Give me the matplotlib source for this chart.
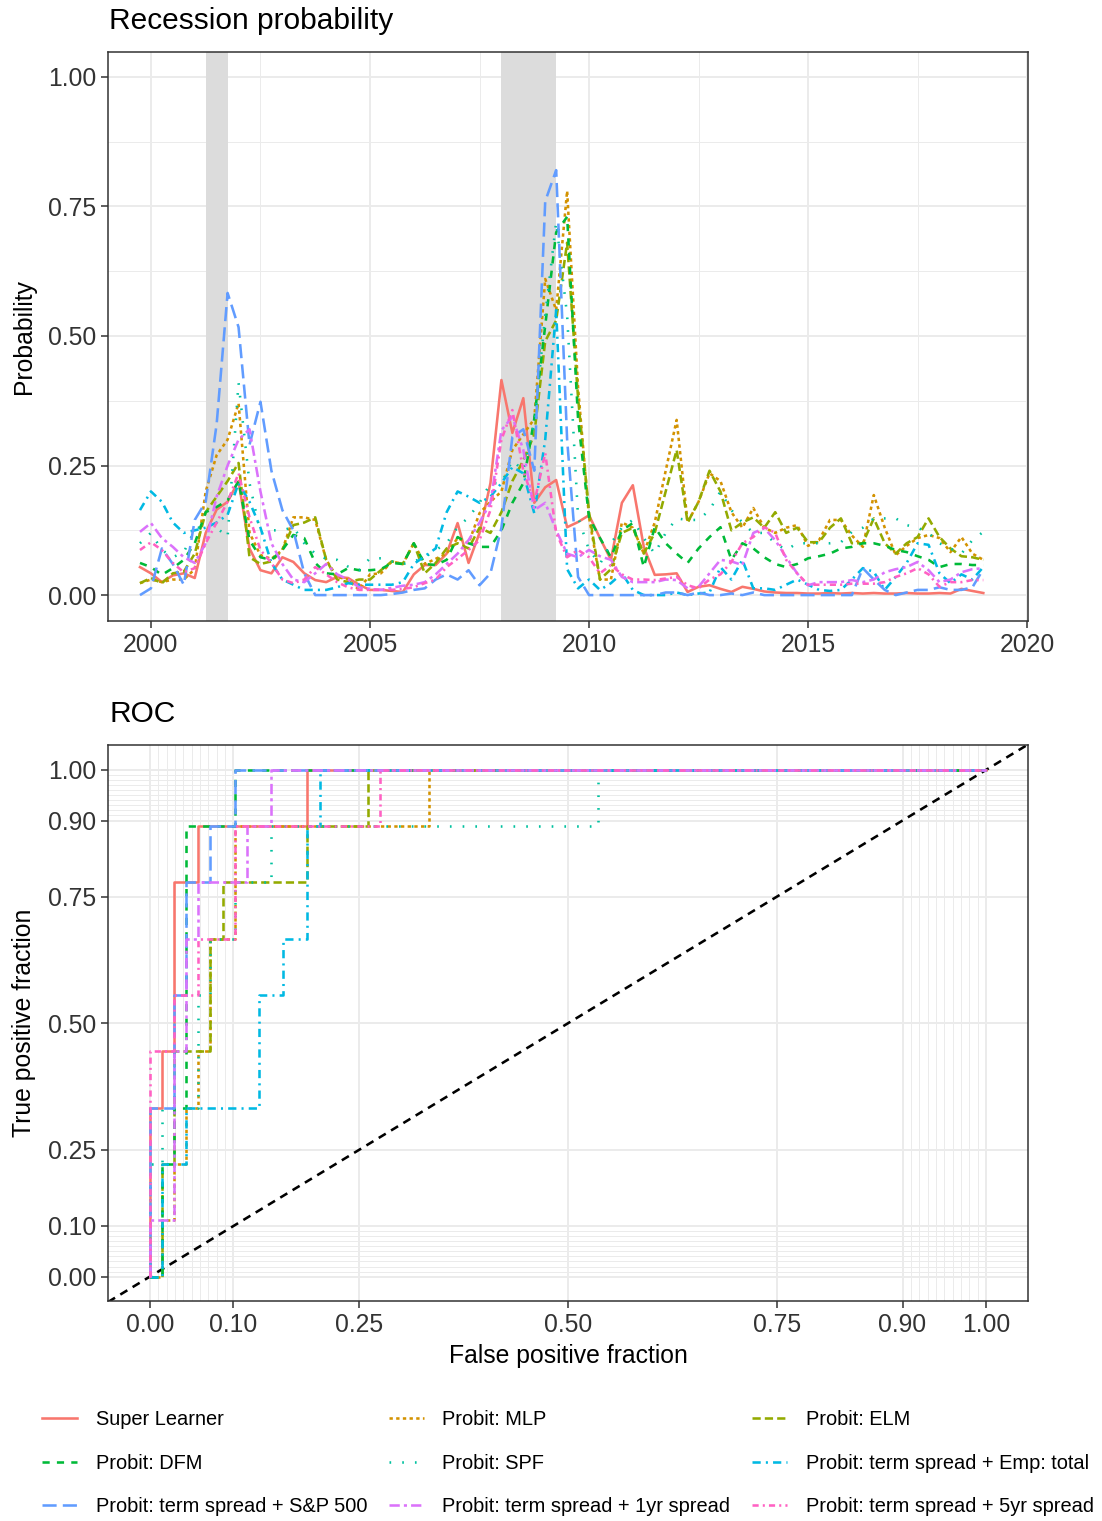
import matplotlib
matplotlib.use("Agg")
import matplotlib.pyplot as plt
import numpy as np
import pandas as pd
from matplotlib.lines import Line2D

plt.rcParams['font.family'] = ['Liberation Sans', 'DejaVu Sans']

# ---------------- data ----------------
MODELS = ["Super Learner", "Probit: MLP", "Probit: ELM", "Probit: DFM", "Probit: SPF",
          "Probit: term spread + Emp: total", "Probit: term spread + S&P 500",
          "Probit: term spread + 1yr spread", "Probit: term spread + 5yr spread"]

QUARTERS = pd.period_range("1999Q4", "2019Q1", freq="Q")

SL = [.054,
      .042, .025, .038, .042, .033, .12, .165, .18, .22, .09, .048, .042,
      .073, .064, .042, .029, .025, .035, .033, .02, .01, .01, .008, .006,
      .04, .058, .058, .08, .139, .062, .12, .216, .415, .313, .38, .178,
      .208, .222, .131, .141, .154, .11, .068, .178, .212, .093, .039, .04,
      .042, .006, .016, .019, .012, .006, .016, .012, .007, .005, .004, .004,
      .003, .003, .004, .003, .004, .003, .004, .003, .003, .004, .003, .003,
      .004, .003, .012, .008,
      .004]
MLP = [.023,
       .03, .025, .03, .03, .05, .2, .27, .3, .37, .12, .077, .07,
       .087, .15, .15, .145, .068, .035, .03, .01, .04, .042, .065, .06,
       .1, .06, .07, .08, .11, .1, .158, .18, .2, .28, .31, .34,
       .61, .55, .78, .4, .15, .03, .03, .14, .13, .08, .14, .24,
       .338, .14, .18, .235, .22, .16, .13, .168, .13, .12, .13, .135,
       .095, .106, .145, .145, .115, .093, .193, .13, .077, .095, .11, .116,
       .11, .083, .112, .08,
       .068]
ELM = [.023,
       .033, .023, .042, .045, .08, .16, .19, .22, .255, .073, .06, .065,
       .087, .135, .14, .15, .068, .03, .025, .03, .03, .048, .065, .06,
       .1, .042, .062, .09, .1, .09, .13, .12, .16, .22, .26, .31,
       .49, .53, .68, .38, .16, .03, .05, .12, .13, .08, .12, .2,
       .28, .14, .18, .24, .2, .125, .14, .15, .13, .16, .12, .13,
       .102, .102, .13, .148, .1, .1, .148, .1, .08, .1, .112, .148,
       .112, .09, .075, .073,
       .068]
DFM = [.062,
       .054, .039, .052, .068, .1, .16, .17, .183, .22, .106, .073, .068,
       .087, .116, .11, .062, .042, .04, .052, .048, .048, .05, .062, .06,
       .1, .06, .058, .068, .112, .1, .093, .093, .125, .178, .216, .34,
       .52, .7, .73, .34, .15, .11, .073, .125, .139, .054, .131, .1,
       .08, .062, .09, .112, .131, .068, .1, .09, .073, .06, .054, .06,
       .071, .075, .08, .09, .093, .1, .1, .095, .087, .083, .075, .068,
       .054, .06, .06, .058,
       .058]
SPF = [.1,
       .12, .087, .073, .083, .125, .139, .13, .112, .41, .216, .12, .125,
       .125, .131, .1, .08, .07, .068, .055, .048, .071, .071, .065, .06,
       .065, .073, .087, .1, .131, .15, .178, .216, .216, .26, .24, .33,
       .54, .72, .54, .15, .087, .06, .1, .13, .145, .11, .08, .12,
       .148, .145, .145, .164, .2, .164, .14, .12, .12, .1, .087, .1,
       .1, .1, .1, .102, .122, .13, .148, .148, .148, .135, .13, .12,
       .1, .09, .08, .106,
       .122]
EMP = [.164,
       .2, .18, .14, .12, .125, .13, .14, .155, .216, .18, .13, .062,
       .03, .02, .01, .01, .01, .015, .023, .02, .02, .02, .02, .025,
       .06, .075, .09, .16, .2, .19, .178, .19, .216, .247, .235, .158,
       .3, .55, .05, .013, .03, .01, .023, .042, .01, .0, .0, .0,
       .005, .0, .003, .005, .054, .03, .068, .013, .013, .01, .02, .03,
       .02, .01, .008, .01, .03, .052, .045, .01, .035, .062, .1, .097,
       .042, .023, .04, .03,
       .054]
SP500 = [.0,
         .013, .09, .06, .02, .145, .18, .33, .583, .517, .29, .373, .24,
         .164, .125, .042, .0, .0, .0, .0, .0, .0, .0, .002, .005,
         .01, .013, .03, .04, .03, .048, .019, .042, .13, .305, .32, .24,
         .76, .82, .3, .035, .0, .0, .0, .0, .0, .0, .0, .005,
         .005, .0, .005, .0, .0, .003, .0, .005, .0, .0, .0, .0,
         .0, .0, .0, .0, .0, .052, .03, .01, .0, .005, .01, .01,
         .015, .01, .01, .015,
         .05]
Y1 = [.122,
      .139, .11, .093, .073, .062, .1, .19, .25, .3, .32, .2, .1,
      .06, .03, .025, .042, .06, .04, .03, .015, .012, .01, .014, .018,
      .02, .025, .04, .06, .08, .106, .14, .178, .318, .344, .28, .164,
      .178, .125, .08, .073, .087, .075, .068, .035, .025, .025, .025, .03,
      .029, .013, .016, .042, .068, .065, .058, .12, .129, .106, .073, .042,
      .019, .025, .025, .025, .029, .025, .03, .044, .05, .054, .064, .048,
      .025, .03, .044, .05,
      .052]
Y5 = [.087,
      .102, .087, .062, .044, .052, .1, .14, .18, .235, .15, .087, .062,
      .03, .023, .03, .054, .04, .025, .015, .01, .01, .01, .01, .012,
      .015, .023, .03, .054, .07, .087, .106, .164, .3, .357, .24, .178,
      .274, .12, .073, .087, .073, .042, .058, .04, .03, .03, .029, .032,
      .035, .019, .013, .03, .04, .064, .1, .112, .131, .12, .068, .042,
      .02, .02, .02, .02, .022, .022, .022, .025, .035, .042, .052, .04,
      .016, .025, .025, .029,
      .029]
SERIES = [SL, MLP, ELM, DFM, SPF, EMP, SP500, Y1, Y5]

RECESSIONS = [(2001.25, 2001.75), (2008.0, 2009.25)]

# ROC step curves: false-positive counts (of N_NEG) and true-positive counts (of N_POS)
N_NEG = 69
N_POS = 9
ROC_FP = [
    [0, 0, 1, 1, 2, 2, 4, 4, 13, 13, 69],
    [0, 1, 1, 2, 2, 3, 3, 4, 4, 5, 5, 7, 7, 23, 23, 69],
    [0, 1, 1, 2, 2, 5, 5, 6, 6, 13, 13, 18, 18, 69],
    [0, 1, 1, 2, 2, 3, 3, 7, 7, 69],
    [0, 0, 1, 1, 4, 4, 5, 5, 7, 7, 10, 10, 37, 37, 69],
    [0, 1, 1, 3, 3, 9, 9, 11, 11, 13, 13, 14, 14, 69],
    [0, 0, 2, 2, 3, 3, 5, 5, 7, 7, 69],
    [0, 0, 2, 2, 3, 3, 4, 4, 8, 8, 10, 10, 69],
    [0, 0, 2, 2, 4, 4, 7, 7, 19, 19, 69],
]
ROC_TP = [
    [0, 3, 3, 4, 4, 7, 7, 8, 8, 9, 9],
    [0, 0, 1, 1, 2, 2, 3, 3, 4, 4, 6, 6, 8, 8, 9, 9],
    [0, 0, 2, 2, 4, 4, 6, 6, 7, 7, 8, 8, 9, 9],
    [0, 0, 2, 2, 3, 3, 8, 8, 9, 9],
    [0, 2, 2, 3, 3, 5, 5, 6, 6, 7, 7, 8, 8, 9, 9],
    [0, 0, 2, 2, 3, 3, 5, 5, 6, 6, 8, 8, 9, 9],
    [0, 3, 3, 5, 5, 7, 7, 8, 8, 9, 9],
    [0, 1, 1, 4, 4, 6, 6, 7, 7, 8, 8, 9, 9],
    [0, 4, 4, 5, 5, 6, 6, 8, 8, 9, 9],
]

ROC_MAJOR = [0, 0.1, 0.25, 0.5, 0.75, 0.9, 1.0]
ROC_LABELS = ["0.00", "0.10", "0.25", "0.50", "0.75", "0.90", "1.00"]

# ---------------- styles ----------------
COLORS = ["#F8766D", "#D39200", "#93AA00", "#00BA38", "#00C19F",
          "#00B9E3", "#619CFF", "#DB72FB", "#FF61C3"]
STYLES = ["-", (0, (1.3, 1.3)), (0, (3.2, 1.6)), (0, (2.8, 2.8)), (0, (0.65, 4.3)),
          (0, (3.2, 2.0, 0.8, 2.0)), (0, (5.5, 2.4)), (0, (4.0, 1.6, 1.2, 1.6)),
          (0, (2.4, 1.6, 0.8, 1.6))]
LW = 1.85
GRID = "#EBEBEB"
DARK = "#333333"
TICKTXT = "#333333"
W, H = 1102, 1521

fig = plt.figure(figsize=(W / 100, H / 100), dpi=100)


def frac_box(l, t, r, b):
    return [l / W, 1 - b / H, (r - l) / W, (b - t) / H]


def style_axes(ax):
    ax.set_axisbelow(True)
    for s in ax.spines.values():
        s.set_color(DARK)
        s.set_linewidth(1.1)
    ax.tick_params(which="major", length=5, width=1.1, color=DARK,
                   labelsize=17.8, labelcolor=TICKTXT, pad=3.5)
    ax.tick_params(which="minor", length=0)
    ax.grid(which="major", color=GRID, linewidth=1.4)
    ax.grid(which="minor", color=GRID, linewidth=0.7)


# ---------------- top panel ----------------
ax1 = fig.add_axes(frac_box(108, 52, 1028, 621))
t = QUARTERS.year + (QUARTERS.quarter - 1) / 4.0
for (a, b) in RECESSIONS:
    ax1.axvspan(a, b, color="#DCDCDC", lw=0, zorder=1)
for vals, col, ls in zip(SERIES, COLORS, STYLES):
    ax1.plot(t, vals, color=col, linestyle=ls, linewidth=LW, zorder=3)
ax1.set_xlim(1999.02, 2020.02)
ax1.set_ylim(-0.05, 1.048)
ax1.set_xticks([2000, 2005, 2010, 2015, 2020])
ax1.set_xticks([2002.5, 2007.5, 2012.5, 2017.5], minor=True)
ax1.set_yticks([0, 0.25, 0.5, 0.75, 1.0])
ax1.set_yticklabels(["0.00", "0.25", "0.50", "0.75", "1.00"])
ax1.set_yticks([0.125, 0.375, 0.625, 0.875], minor=True)
style_axes(ax1)

fig.text(109 / W, 1 - 21 / H, "Recession probability", fontsize=21.5, ha="left", va="center")
fig.text(24 / W, 1 - 336 / H, "Probability", fontsize=17.8, rotation=90, ha="center", va="center")

# ---------------- ROC panel ----------------
ax2 = fig.add_axes(frac_box(108, 745, 1028, 1301))
ax2.plot([-0.05, 1.05], [-0.05, 1.05], color="black", linestyle=(0, (3.2, 2.4)),
         linewidth=1.85, zorder=2)
for fp, tp, col, ls in zip(ROC_FP, ROC_TP, COLORS, STYLES):
    ax2.plot(np.array(fp) / N_NEG, np.array(tp) / N_POS, color=col, linestyle=ls,
             linewidth=LW, zorder=3)
ax2.set_xlim(-0.05, 1.05)
ax2.set_ylim(-0.048, 1.049)
ax2.set_xticks(ROC_MAJOR)
ax2.set_xticklabels(ROC_LABELS)
ax2.set_yticks(ROC_MAJOR)
ax2.set_yticklabels(ROC_LABELS)
minor = [v / 100 for v in list(range(1, 10)) + list(range(91, 100))]
ax2.set_xticks(minor, minor=True)
ax2.set_yticks(minor, minor=True)
style_axes(ax2)

fig.text(109 / W, 1 - 714 / H, "ROC", fontsize=21.5, ha="left", va="center")
fig.text(24 / W, 1 - 1023 / H, "True positive fraction", fontsize=17.8, rotation=90,
         ha="center", va="center")
fig.text(568 / W, 1 - 1356 / H, "False positive fraction", fontsize=17.8, ha="center", va="center")

# ---------------- legend ----------------
handles = [Line2D([], [], color=c, linestyle=s, linewidth=LW) for c, s in zip(COLORS, STYLES)]
order = [0, 3, 6, 1, 4, 7, 2, 5, 8]
fig.legend([handles[i] for i in order], [MODELS[i] for i in order],
           loc="upper left", bbox_to_anchor=(42 / W, 1 - 1410 / H), ncol=3, frameon=False,
           fontsize=14.4, handlelength=1.75, handletextpad=0.95, columnspacing=1.05,
           labelspacing=1.23, borderpad=0, borderaxespad=0)

fig.savefig("out.png", dpi=100)
